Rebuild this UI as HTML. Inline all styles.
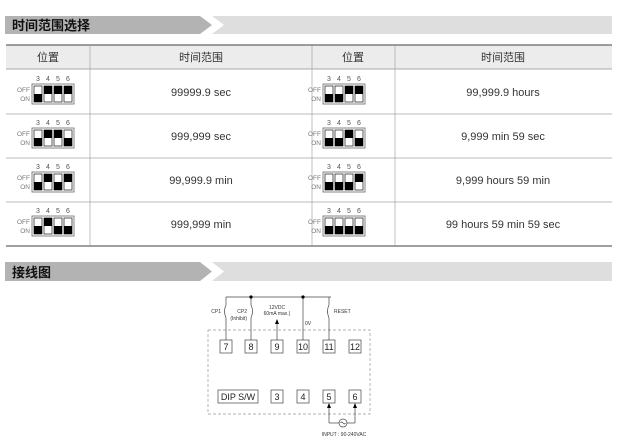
<!DOCTYPE html>
<html><head><meta charset="utf-8"><style>
html,body{margin:0;padding:0;background:#fff;}
svg{display:block;font-family:"Liberation Sans","Noto Sans CJK SC",sans-serif;}
.d{font-size:7px;fill:#555;}
.o{font-size:6.5px;fill:#777;}
.t{font-size:11px;fill:#333;}
.h{font-size:11px;fill:#333;}
.w{fill:#fff;stroke:#333;stroke-width:0.8;}
.b{fill:#000;}
.bx{fill:#fff;stroke:#666;stroke-width:0.8;}
.n{font-size:9px;fill:#222;}
.s{font-size:5px;fill:#333;}
</style></head><body>
<svg width="623" height="447" viewBox="0 0 623 447" xmlns="http://www.w3.org/2000/svg">
<defs>
<g id="on"><rect class="w" x="0" y="0" width="8" height="16"/><rect class="b" x="0" y="8" width="8" height="8"/></g>
<g id="off"><rect class="w" x="0" y="0" width="8" height="16"/><rect class="b" x="0" y="0" width="8" height="8"/></g>
<g id="frame"><rect class="bx" x="0" y="0" width="42" height="20"/>
<text class="d" x="6" y="-3" text-anchor="middle">3</text><text class="d" x="16" y="-3" text-anchor="middle">4</text><text class="d" x="26" y="-3" text-anchor="middle">5</text><text class="d" x="36" y="-3" text-anchor="middle">6</text>
<text class="o" x="-2" y="8" text-anchor="end">OFF</text><text class="o" x="-2" y="17" text-anchor="end">ON</text></g>
</defs>
<!-- header bar 1 -->
<polygon points="5,16 200,16 212,25 200,34 5,34" fill="#b3b3b3"/>
<polygon points="212,16 612,16 612,34 212,34 224,25" fill="#dedede"/>
<text x="12" y="30" font-size="13" font-weight="bold" fill="#111">时间范围选择</text>
<!-- table -->
<rect x="6" y="45" width="606" height="24" fill="#ececec"/>
<line x1="6" y1="45" x2="612" y2="45" stroke="#666" stroke-width="1.2"/>
<line x1="6" y1="69" x2="612" y2="69" stroke="#aaa"/>
<line x1="6" y1="114" x2="612" y2="114" stroke="#bbb"/>
<line x1="6" y1="158" x2="612" y2="158" stroke="#bbb"/>
<line x1="6" y1="202" x2="612" y2="202" stroke="#bbb"/>
<line x1="6" y1="246" x2="612" y2="246" stroke="#666" stroke-width="1.2"/>
<line x1="90" y1="45" x2="90" y2="246" stroke="#999" stroke-width="0.6"/>
<line x1="312" y1="45" x2="312" y2="246" stroke="#999" stroke-width="0.6"/>
<line x1="395" y1="45" x2="395" y2="246" stroke="#999" stroke-width="0.6"/>
<text class="h" x="48" y="61" text-anchor="middle">位置</text>
<text class="h" x="201" y="61" text-anchor="middle">时间范围</text>
<text class="h" x="353" y="61" text-anchor="middle">位置</text>
<text class="h" x="503" y="61" text-anchor="middle">时间范围</text>
<text class="t" x="201" y="96" text-anchor="middle">99999.9 sec</text>
<text class="t" x="201" y="140" text-anchor="middle">999,999 sec</text>
<text class="t" x="201" y="184" text-anchor="middle">99,999.9 min</text>
<text class="t" x="201" y="228" text-anchor="middle">999,999 min</text>
<text class="t" x="503" y="96" text-anchor="middle">99,999.9 hours</text>
<text class="t" x="503" y="140" text-anchor="middle">9,999 min 59 sec</text>
<text class="t" x="503" y="184" text-anchor="middle">9,999 hours 59 min</text>
<text class="t" x="503" y="228" text-anchor="middle">99 hours 59 min 59 sec</text>
<!-- left switches -->
<g transform="translate(32,84)"><use href="#frame"/><use href="#on" x="2" y="2"/><use href="#off" x="12" y="2"/><use href="#off" x="22" y="2"/><use href="#off" x="32" y="2"/></g>
<g transform="translate(32,128)"><use href="#frame"/><use href="#on" x="2" y="2"/><use href="#off" x="12" y="2"/><use href="#off" x="22" y="2"/><use href="#on" x="32" y="2"/></g>
<g transform="translate(32,172)"><use href="#frame"/><use href="#on" x="2" y="2"/><use href="#off" x="12" y="2"/><use href="#on" x="22" y="2"/><use href="#off" x="32" y="2"/></g>
<g transform="translate(32,216)"><use href="#frame"/><use href="#on" x="2" y="2"/><use href="#off" x="12" y="2"/><use href="#on" x="22" y="2"/><use href="#on" x="32" y="2"/></g>
<!-- right switches -->
<g transform="translate(323,84)"><use href="#frame"/><use href="#on" x="2" y="2"/><use href="#on" x="12" y="2"/><use href="#off" x="22" y="2"/><use href="#off" x="32" y="2"/></g>
<g transform="translate(323,128)"><use href="#frame"/><use href="#on" x="2" y="2"/><use href="#on" x="12" y="2"/><use href="#off" x="22" y="2"/><use href="#on" x="32" y="2"/></g>
<g transform="translate(323,172)"><use href="#frame"/><use href="#on" x="2" y="2"/><use href="#on" x="12" y="2"/><use href="#on" x="22" y="2"/><use href="#off" x="32" y="2"/></g>
<g transform="translate(323,216)"><use href="#frame"/><use href="#on" x="2" y="2"/><use href="#on" x="12" y="2"/><use href="#on" x="22" y="2"/><use href="#on" x="32" y="2"/></g>
<!-- header bar 2 -->
<polygon points="5,262 200,262 212,271.5 200,281 5,281" fill="#b3b3b3"/>
<polygon points="212,262 612,262 612,281 212,281 224,271.5" fill="#dedede"/>
<text x="12" y="277" font-size="13" font-weight="bold" fill="#111">接线图</text>
<!-- wiring -->
<rect x="208" y="330" width="162" height="84" fill="none" stroke="#999" stroke-width="0.7" stroke-dasharray="3,2"/>
<g stroke="#444" stroke-width="0.7" fill="none">
<line x1="226" y1="297" x2="331" y2="297"/>
<line x1="226" y1="297" x2="226" y2="305"/><line x1="226" y1="318" x2="226" y2="340"/>
<path d="M226,305 q-3,6 0,13"/>
<line x1="251" y1="297" x2="251" y2="305"/><line x1="251" y1="318" x2="251" y2="340"/>
<path d="M251,305 q3,6 0,13"/>
<line x1="277" y1="323" x2="277" y2="340"/>
<line x1="303" y1="297" x2="303" y2="340"/>
<line x1="329" y1="297" x2="329" y2="305"/><line x1="329" y1="318" x2="329" y2="340"/>
<path d="M329,305 q-3,6 0,13"/>
<line x1="329" y1="405" x2="329" y2="423"/><line x1="355" y1="405" x2="355" y2="423"/>
<line x1="329" y1="423" x2="339" y2="423"/><line x1="347" y1="423" x2="355" y2="423"/>
<circle cx="343" cy="423" r="4"/>
<path d="M340.5,423 q1.2,-2 2.5,0 q1.2,2 2.5,0"/>
</g>
<circle cx="251" cy="297" r="1.6" fill="#000"/><circle cx="303" cy="297" r="1.6" fill="#000"/>
<polygon points="277,319 275,324 279,324" fill="#000"/>
<polygon points="329,403 327,408 331,408" fill="#000"/>
<polygon points="355,403 353,408 357,408" fill="#000"/>
<text class="s" x="221" y="313" text-anchor="end">CP1</text>
<text class="s" x="247" y="313" text-anchor="end">CP2</text>
<text class="s" x="247" y="320" text-anchor="end">(Inhibit)</text>
<text class="s" x="277" y="309" text-anchor="middle">12VDC</text>
<text class="s" x="277" y="315" text-anchor="middle">60mA max.)</text>
<text class="s" x="305" y="325">0V</text>
<text class="s" x="334" y="313">RESET</text>
<g fill="#fff" stroke="#444" stroke-width="0.7">
<rect x="220" y="340" width="12" height="13"/><rect x="245" y="340" width="12" height="13"/>
<rect x="271" y="340" width="12" height="13"/><rect x="297" y="340" width="12" height="13"/>
<rect x="323" y="340" width="12" height="13"/><rect x="349" y="340" width="12" height="13"/>
<rect x="218" y="390" width="40" height="13"/>
<rect x="271" y="390" width="12" height="13"/><rect x="297" y="390" width="12" height="13"/>
<rect x="323" y="390" width="12" height="13"/><rect x="349" y="390" width="12" height="13"/>
</g>
<g class="n" text-anchor="middle">
<text x="226" y="350">7</text><text x="251" y="350">8</text><text x="277" y="350">9</text>
<text x="303" y="350">10</text><text x="329" y="350">11</text><text x="355" y="350">12</text>
<text x="238" y="400">DIP S/W</text><text x="277" y="400">3</text><text x="303" y="400">4</text>
<text x="329" y="400">5</text><text x="355" y="400">6</text>
</g>
<text class="s" x="344" y="436" text-anchor="middle">INPUT : 90-240VAC</text>
</svg>
</body></html>
